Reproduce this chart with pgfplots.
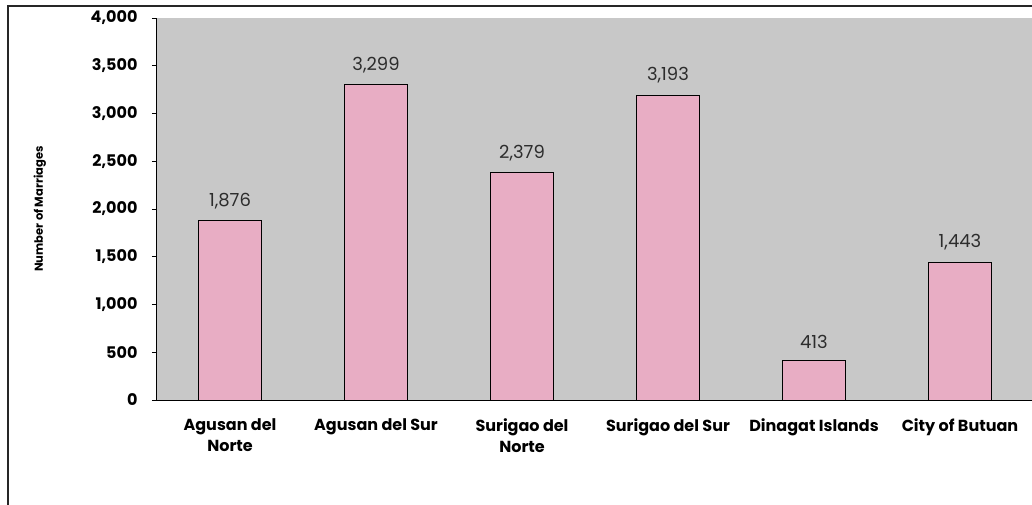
\documentclass[border=0pt]{standalone}
\usepackage{fontspec}
\setmainfont{Poppins}
\usepackage{pgfplots}
\pgfplotsset{compat=1.18}
\definecolor{plotbg}{RGB}{200,200,200}
\definecolor{barpink}{RGB}{232,173,196}
\definecolor{lbl}{RGB}{45,45,45}
\begin{document}
\begin{tikzpicture}[x=1pt,y=1pt]
\useasboundingbox (-157,-104) rectangle (875,400);
\begin{axis}[
  at={(0,0)}, anchor=south west,
  scale only axis, width=876pt, height=382pt,
  xmin=-0.5, xmax=5.5, ymin=0, ymax=4000,
  axis background/.style={fill=plotbg},
  axis x line*=bottom, axis y line*=left,
  axis line style={black, line width=1pt},
  ytick={0,500,...,4000},
  tick align=outside,
  major tick length=5pt,
  major x tick style={draw=none},
  y tick style={black, line width=1pt},
  xtick=data,
  xticklabels={{Agusan del\\Norte},{Agusan del Sur},{Surigao del\\Norte},{Surigao del Sur},{Dinagat Islands},{City of Butuan}},
  xticklabel style={align=center, font=\fontsize{16}{21}\selectfont\bfseries, text=black, anchor=north, yshift=-10pt},
  yticklabel style={font=\fontsize{16}{18}\selectfont\bfseries, text=black, xshift=-11pt},
  /pgf/number format/.cd, 1000 sep={,}, assume math mode=true, /pgfplots/.cd,
  ylabel={Number of Marriages},
  ylabel style={at={(axis description cs:-0.1336,0.5)}, anchor=center, font=\fontsize{11.5}{13}\selectfont\bfseries},
  ybar, bar width=63pt,
  nodes near coords,
  nodes near coords style={font=\fontsize{18}{20}\selectfont, text=lbl, /pgf/number format/1000 sep={,}, /pgf/number format/assume math mode=true, yshift=8pt},
]
\addplot[fill=barpink, draw=black, line width=1pt] coordinates {
  (0,1876) (1,3299) (2,2379) (3,3193) (4,413) (5,1443)
};
\end{axis}
\draw[line width=1.5pt, black!85] (-149,-110) -- (-149,394) -- (880,394);
\end{tikzpicture}
\end{document}
